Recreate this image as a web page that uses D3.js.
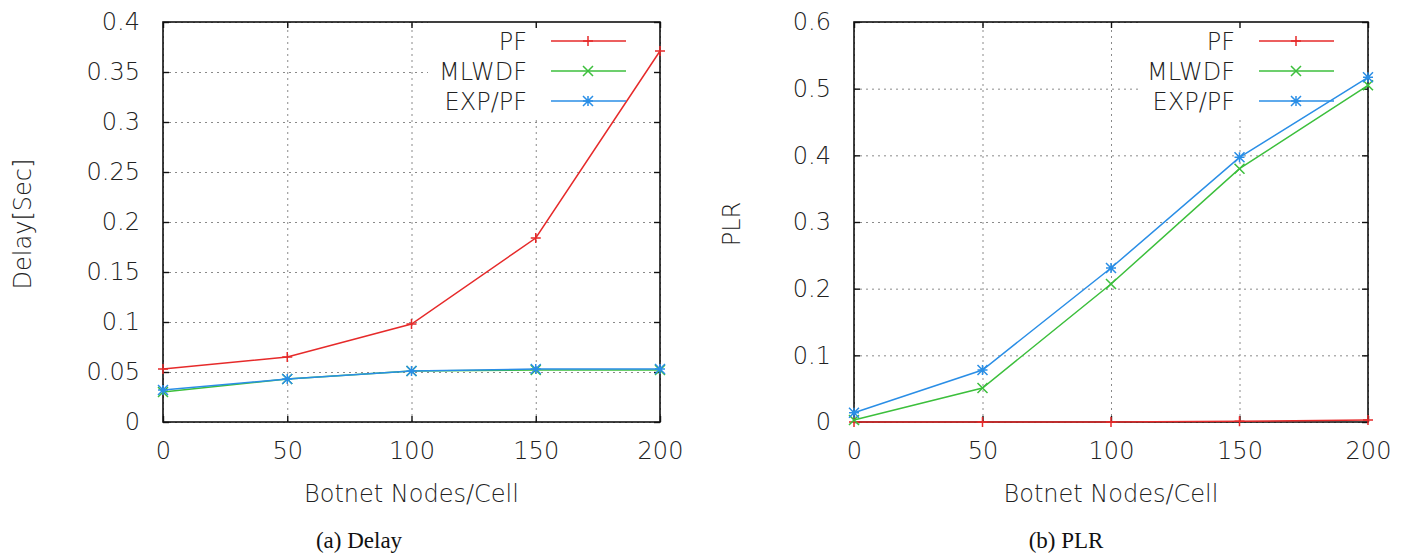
<!DOCTYPE html>
<html>
<head>
<meta charset="utf-8">
<script src="https://cdn.jsdelivr.net/npm/d3@7"></script>
<style>
  body { margin: 0; background: #fff; }
  text { font-family: "DejaVu Sans", sans-serif; font-weight: 200; fill: #222; }
  text.caption { font-family: "Liberation Serif", "Times New Roman", serif; font-weight: 400; fill: #111; }
</style>
</head>
<body>
<svg></svg>
<script>
// data
const xNodes = [0, 50, 100, 150, 200];
const seriesNames = ["PF", "MLWDF", "EXP/PF"];

const delayPF    = [0.053, 0.065, 0.098, 0.184, 0.371];
const delayMLWDF = [0.030, 0.043, 0.051, 0.052, 0.052];
const delayEXPPF = [0.032, 0.043, 0.051, 0.053, 0.053];

const plrPF    = [0.000, 0.000, 0.000, 0.001, 0.003];
const plrMLWDF = [0.003, 0.051, 0.207, 0.380, 0.505];
const plrEXPPF = [0.014, 0.078, 0.231, 0.397, 0.517];

const xTicks = [0, 50, 100, 150, 200];
const xTickLabels = ["0", "50", "100", "150", "200"];
const delayTicks = [0, 0.05, 0.1, 0.15, 0.2, 0.25, 0.3, 0.35, 0.4];
const delayTickLabels = ["0", "0.05", "0.1", "0.15", "0.2", "0.25", "0.3", "0.35", "0.4"];
const plrTicks = [0, 0.1, 0.2, 0.3, 0.4, 0.5, 0.6];
const plrTickLabels = ["0", "0.1", "0.2", "0.3", "0.4", "0.5", "0.6"];

const colors = ["#e62a2a", "#3cbf3c", "#2a8ee6"];
const markers = ["plus", "cross", "star"];

const width = 1403, height = 557;

const svg = d3.select("svg")
    .attr("width", width)
    .attr("height", height);

svg.append("rect").attr("width", width).attr("height", height).attr("fill", "#fff");

// small gnuplot style point symbols
const markerPath = (type, x, y, s) => {
  const plus = `M${x - s},${y}H${x + s}M${x},${y - s}V${y + s}`;
  const cross = `M${x - s},${y - s}L${x + s},${y + s}M${x - s},${y + s}L${x + s},${y - s}`;
  if (type === "plus") return plus;
  if (type === "cross") return cross;
  return plus + cross;
};

function drawChart(cfg) {
  const top = 22, bottom = 422;
  const x = d3.scaleLinear().domain([0, 200]).range([cfg.left, cfg.right]);
  const y = d3.scaleLinear().domain([0, cfg.yMax]).range([bottom, top]);
  const g = svg.append("g");

  // dotted grid
  g.append("g")
    .attr("transform", `translate(0,${bottom})`)
    .call(d3.axisBottom(x).tickValues(xTicks).tickSize(-(bottom - top)).tickFormat(""))
    .call(a => a.select(".domain").remove())
    .selectAll("line").attr("stroke", "#8a8a8a").attr("stroke-dasharray", "2,4");
  g.append("g")
    .attr("transform", `translate(${cfg.left},0)`)
    .call(d3.axisLeft(y).tickValues(cfg.ticks).tickSize(-(cfg.right - cfg.left)).tickFormat(""))
    .call(a => a.select(".domain").remove())
    .selectAll("line").attr("stroke", "#8a8a8a").attr("stroke-dasharray", "2,4");

  // opaque key background hides the grid
  g.append("rect")
    .attr("x", cfg.keyBoxLeft).attr("y", top)
    .attr("width", cfg.right - cfg.keyBoxLeft).attr("height", 94)
    .attr("fill", "#fff");

  // axes with inward ticks on all four sides
  const bottomAxis = g.append("g")
    .attr("transform", `translate(0,${bottom})`)
    .call(d3.axisBottom(x).tickValues(xTicks).tickSize(-6).tickPadding(20)
      .tickFormat((d, i) => xTickLabels[i]));
  const leftAxis = g.append("g")
    .attr("transform", `translate(${cfg.left},0)`)
    .call(d3.axisLeft(y).tickValues(cfg.ticks).tickSize(-6).tickPadding(23)
      .tickFormat((d, i) => cfg.tickLabels[i]));
  g.append("g")
    .attr("transform", `translate(0,${top})`)
    .call(d3.axisTop(x).tickValues(xTicks).tickSize(-6).tickFormat(""));
  g.append("g")
    .attr("transform", `translate(${cfg.right},0)`)
    .call(d3.axisRight(y).tickValues(cfg.ticks).tickSize(-6).tickFormat(""));

  g.selectAll(".domain").remove();
  g.selectAll(".tick line:not([stroke-dasharray])").attr("stroke", "#111").attr("stroke-width", 1.4);
  [bottomAxis, leftAxis].forEach(a => a.selectAll("text")
    .attr("font-size", 24).attr("font-family", "DejaVu Sans").attr("font-weight", 200).attr("fill", "#222"));

  g.append("rect")
    .attr("x", cfg.left).attr("y", top)
    .attr("width", cfg.right - cfg.left).attr("height", bottom - top)
    .attr("fill", "none").attr("stroke", "#111").attr("stroke-width", 1.6);

  // series
  const line = d3.line().x((d, i) => x(xNodes[i])).y(d => y(d));
  cfg.series.forEach((vals, k) => {
    g.append("path")
      .datum(vals)
      .attr("fill", "none")
      .attr("stroke", colors[k])
      .attr("stroke-width", 1.5)
      .attr("d", line);
    g.append("path")
      .attr("fill", "none")
      .attr("stroke", colors[k])
      .attr("stroke-width", 1.5)
      .attr("d", vals.map((v, i) => markerPath(markers[k], x(xNodes[i]), y(v), 5)).join(""));
  });

  // key
  seriesNames.forEach((name, k) => {
    const ky = 41 + k * 30;
    g.append("text")
      .attr("x", cfg.keyText).attr("y", ky).attr("dy", "0.36em")
      .attr("text-anchor", "end").attr("font-size", 24)
      .text(name);
    g.append("line")
      .attr("x1", cfg.keyText + 24).attr("x2", cfg.keyText + 99)
      .attr("y1", ky).attr("y2", ky)
      .attr("stroke", colors[k]).attr("stroke-width", 1.5);
    g.append("path")
      .attr("fill", "none").attr("stroke", colors[k]).attr("stroke-width", 1.5)
      .attr("d", markerPath(markers[k], cfg.keyText + 61, ky, 5));
  });

  // titles
  g.append("text")
    .attr("x", (cfg.left + cfg.right) / 2).attr("y", 502)
    .attr("text-anchor", "middle").attr("font-size", 24)
    .text("Botnet Nodes/Cell");
  g.append("text")
    .attr("transform", `translate(${cfg.yTitleX},224) rotate(-90)`)
    .attr("text-anchor", "middle").attr("font-size", 24)
    .text(cfg.yTitle);
  g.append("text")
    .attr("class", "caption")
    .attr("x", cfg.captionX).attr("y", 548)
    .attr("text-anchor", "middle").attr("font-size", 23)
    .text(cfg.caption);
}

drawChart({
  left: 163, right: 660, yMax: 0.4,
  ticks: delayTicks, tickLabels: delayTickLabels,
  series: [delayPF, delayMLWDF, delayEXPPF],
  keyText: 527, keyBoxLeft: 428,
  yTitle: "Delay[Sec]", yTitleX: 31,
  caption: "(a) Delay", captionX: 359
});

drawChart({
  left: 854, right: 1368, yMax: 0.6,
  ticks: plrTicks, tickLabels: plrTickLabels,
  series: [plrPF, plrMLWDF, plrEXPPF],
  keyText: 1235, keyBoxLeft: 1141,
  yTitle: "PLR", yTitleX: 740,
  caption: "(b) PLR", captionX: 1066
});
</script>
</body>
</html>
